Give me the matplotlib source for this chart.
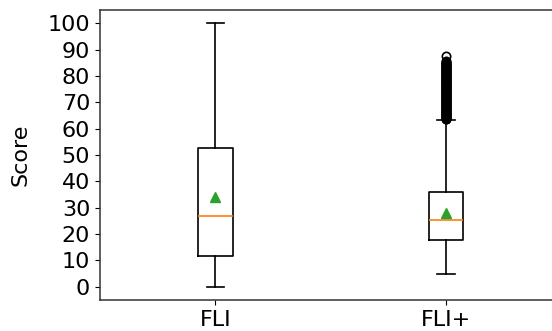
import matplotlib
matplotlib.use("Agg")
import matplotlib.pyplot as plt

labels = ["FLI", "FLI+"]
medians = [27.0, 25.3]
q1s = [11.8, 17.8]
q3s = [52.6, 36.0]
whislos = [0.0, 5.0]
whishis = [100.0, 63.4]
means = [34.2, 28.0]
fliers_fli = []
fliers_fliplus = [63.5, 63.75, 64.0, 64.25, 64.5, 64.75, 65.0, 65.25, 65.5, 65.75,
                  66.0, 66.25, 66.5, 66.75, 67.0, 67.25, 67.5, 67.75, 68.0, 68.25,
                  68.5, 68.75, 69.0, 69.25, 69.5, 69.75, 70.0, 70.25, 70.5, 70.75,
                  71.0, 71.25, 71.5, 71.75, 72.0, 72.25, 72.5, 72.75, 73.0, 73.25,
                  73.5, 73.75, 74.0, 74.25, 74.5, 74.75, 75.0, 75.25, 75.5, 75.75,
                  76.0, 76.25, 76.5, 76.75, 77.0, 77.25, 77.5, 77.75, 78.0, 78.25,
                  78.5, 78.75, 79.0, 79.25, 79.5, 79.75, 80.0, 80.25, 80.5, 80.75,
                  81.0, 81.25, 81.5, 81.75, 82.0, 82.25, 82.5, 82.75, 83.0, 83.25,
                  83.5, 83.75, 84.0, 84.25, 84.5, 84.75, 85.0, 85.25, 85.5, 87.7]
fliers = [fliers_fli, fliers_fliplus]

stats = []
for i in range(len(labels)):
    stats.append(dict(label=labels[i], med=medians[i], q1=q1s[i], q3=q3s[i],
                      whislo=whislos[i], whishi=whishis[i], mean=means[i],
                      fliers=fliers[i]))

lw = 1.2
fig = plt.figure(figsize=(5.52, 3.31), dpi=100)
ax = fig.add_axes([0.181, 0.0937, 0.836, 0.876])
ax.bxp(stats, positions=[1, 2], widths=0.15, showmeans=True,
       boxprops=dict(linewidth=lw), whiskerprops=dict(linewidth=lw),
       capprops=dict(linewidth=lw), medianprops=dict(linewidth=lw, color="#ff7f0e"),
       flierprops=dict(markeredgewidth=lw, markersize=6),
       meanprops=dict(markersize=7))
ax.set_xlim(0.5, 2.5)
ax.set_ylim(-5, 105)
ax.set_yticks(range(0, 101, 10))
ax.tick_params(labelsize=16)
for s in ax.spines.values():
    s.set_linewidth(1.1)
    s.set_color("#333333")
ax.set_ylabel("Score", fontsize=16, labelpad=12)
fig.savefig("out.png", dpi=100)
